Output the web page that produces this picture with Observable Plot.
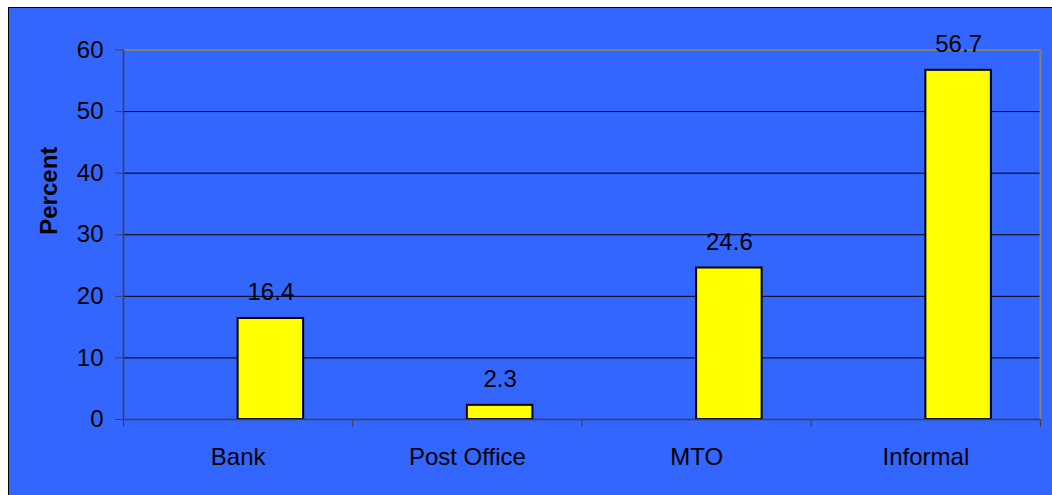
<!DOCTYPE html>
<html>
<head>
<meta charset="utf-8">
<script src="https://cdn.jsdelivr.net/npm/d3@7"></script>
<script src="https://cdn.jsdelivr.net/npm/@observablehq/plot@0.6"></script>
<style>
  html, body { margin: 0; padding: 0; background: #ffffff; }
  #chart { position: absolute; left: 8px; top: 7px; border-left: 1px solid #000; border-top: 1px solid #000; background: #3366FF; }
</style>
</head>
<body>
<div id="chart"></div>
<script>
const categories = ["Bank", "Post Office", "MTO", "Informal"];
const values = [16.4, 2.3, 24.6, 56.7];
const yTicks = [0, 10, 20, 30, 40, 50, 60];
const yLabel = "Percent";

// Excel clustered column: 2 series (first empty), gap width 150% => bar = 1/3.5 of category
const barFrac = 1 / 3.5;
const pos = categories.map((c, i) => i + 0.5);
const bounds = categories.map((c, i) => i).concat([categories.length]);

const font = "'Liberation Sans', Arial, sans-serif";

const chart = Plot.plot({
  width: 1043,
  height: 487,
  marginLeft: 114,
  marginRight: 12,
  marginTop: 41.5,
  marginBottom: 76,
  style: { background: "#3366FF", fontFamily: font, fontSize: "24px", color: "#000" },
  x: { type: "linear", domain: [0, categories.length] },
  y: { domain: [0, 60] },
  marks: [
    Plot.ruleY(yTicks.filter(d => d > 0 && d < 60), { stroke: "#000", strokeWidth: 1 }),
    Plot.ruleY([60], { stroke: "#808080", strokeWidth: 2 }),
    Plot.ruleX([categories.length], { stroke: "#808080", strokeWidth: 2 }),
    Plot.rectY(values, {
      x1: (d, i) => pos[i],
      x2: (d, i) => pos[i] + barFrac,
      y1: 0,
      y2: d => d,
      fill: "#FFFF00",
      stroke: "#000",
      strokeWidth: 2
    }),
    Plot.ruleY([0], { stroke: "#404040", strokeWidth: 1.5 }),
    Plot.ruleX([0], { stroke: "#404040", strokeWidth: 1.5 }),
    Plot.axisY({ ticks: yTicks, tickSize: 8, tickPadding: 12, label: null, stroke: "#404040", fill: "#000", fontSize: 24 }),
    Plot.axisX({ ticks: bounds, tickFormat: () => "", tickSize: 8, label: null, stroke: "#404040" }),
    Plot.axisX({ ticks: pos, tickFormat: d => categories[Math.round(d - 0.5)], tickSize: 0, tickPadding: 28, label: null, fill: "#000", fontSize: 24 }),
    Plot.text(values, {
      x: (d, i) => pos[i] + barFrac / 2,
      y: d => d,
      text: d => d.toFixed(1),
      dy: -26,
      lineAnchor: "middle",
      fill: "#000",
      fontSize: 24
    }),
    Plot.text([yLabel], {
      frameAnchor: "left",
      rotate: -90,
      dx: -74,
      lineAnchor: "middle",
      fontWeight: "bold",
      fontSize: 24,
      fill: "#000"
    })
  ]
});
document.getElementById("chart").appendChild(chart);
</script>
</body>
</html>
